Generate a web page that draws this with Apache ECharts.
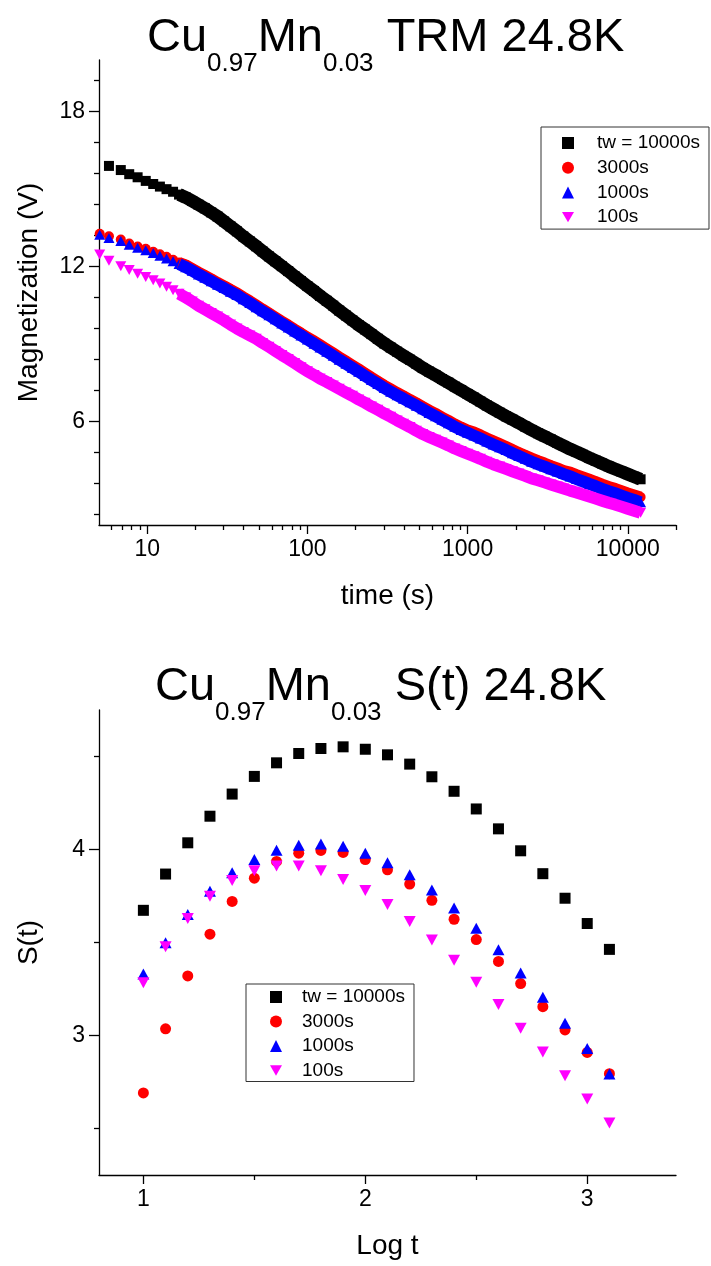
<!DOCTYPE html>
<html>
<head>
<meta charset="utf-8">
<title>CuMn TRM and S(t)</title>
<script src="https://cdn.jsdelivr.net/npm/echarts@6/dist/echarts.min.js"></script>
<style>
  html, body { margin: 0; padding: 0; background: #fff; }
  #chart { width: 711px; height: 1266px; }
</style>
</head>
<body>
<div id="chart"></div>
<script>
// ---- TRM decay (upper panel): time in seconds, magnetization in volts ----
const trmTimes = [
  5.05, 5.77, 6.84, 7.72, 8.71, 9.79, 10.9,
  12.0, 13.2, 14.5, 15.8, 17.4, 19.1, 20.9, 22.9, 25.1, 27.5, 30.2, 33.1, 36.3, 39.8,
  43.7, 47.9, 52.5, 57.5, 63.1, 69.2, 75.9, 83.2, 91.2, 100, 110, 120, 132, 145, 158,
  174, 191, 209, 229, 251, 275, 302, 331, 363, 398, 437, 479, 525, 575, 631, 692,
  759, 832, 912, 1000, 1096, 1202, 1318, 1445, 1585, 1738, 1905, 2089, 2291, 2512,
  2754, 3020, 3311, 3631, 3981, 4365, 4786, 5248, 5754, 6310, 6918, 7586, 8318,
  9120, 10000, 10965, 12023
];
const trmTw10000 = [
  null, 15.90, 15.74, 15.58, 15.46, 15.32, 15.20,
  15.10, 15.00, 14.90, 14.79, 14.68, 14.54, 14.40, 14.26, 14.10, 13.94, 13.75, 13.56, 13.37, 13.17,
  12.98, 12.79, 12.59, 12.40, 12.21, 12.02, 11.83, 11.63, 11.44, 11.25, 11.06, 10.87, 10.68, 10.49, 10.30,
  10.11, 9.92, 9.74, 9.57, 9.39, 9.21, 9.03, 8.87, 8.71, 8.55, 8.40, 8.24, 8.08, 7.94, 7.80, 7.65,
  7.51, 7.36, 7.22, 7.07, 6.93, 6.78, 6.63, 6.49, 6.35, 6.21, 6.08, 5.95, 5.81, 5.68,
  5.55, 5.43, 5.31, 5.18, 5.06, 4.94, 4.83, 4.72, 4.60, 4.49, 4.38, 4.27, 4.17,
  4.07, 3.97, 3.87, 3.77
];
const trmTw3000 = [
  13.27, 13.18, 13.05, 12.90, 12.78, 12.69, 12.58,
  12.48, 12.38, 12.27, 12.16, 12.07, 11.93, 11.79, 11.66, 11.53, 11.39, 11.26, 11.12, 10.99, 10.83,
  10.68, 10.52, 10.36, 10.21, 10.05, 9.89, 9.74, 9.58, 9.43, 9.27, 9.13, 8.98, 8.82, 8.66, 8.51,
  8.35, 8.19, 8.04, 7.88, 7.72, 7.57, 7.41, 7.27, 7.13, 7.00, 6.86, 6.73, 6.59, 6.45, 6.32, 6.18,
  6.05, 5.91, 5.79, 5.68, 5.60, 5.49, 5.37, 5.26, 5.15, 5.04, 4.92, 4.81, 4.70, 4.59,
  4.49, 4.40, 4.30, 4.21, 4.11, 4.05, 3.95, 3.86, 3.77, 3.68, 3.58, 3.49, 3.42,
  3.33, 3.24, 3.16, 3.08
];
const trmTw1000 = [
  13.24, 13.11, 12.99, 12.85, 12.73, 12.64, 12.53,
  12.42, 12.32, 12.21, 12.10, 11.98, 11.84, 11.70, 11.57, 11.44, 11.30, 11.17, 11.03, 10.90, 10.74,
  10.59, 10.43, 10.27, 10.12, 9.96, 9.80, 9.65, 9.49, 9.34, 9.18, 9.02, 8.87, 8.71, 8.55, 8.40,
  8.24, 8.08, 7.93, 7.77, 7.61, 7.46, 7.30, 7.16, 7.02, 6.89, 6.75, 6.62, 6.48, 6.34, 6.21, 6.07,
  5.94, 5.80, 5.68, 5.57, 5.46, 5.35, 5.23, 5.12, 5.01, 4.90, 4.78, 4.67, 4.56, 4.45,
  4.35, 4.26, 4.16, 4.07, 3.97, 3.88, 3.78, 3.69, 3.59, 3.50, 3.40, 3.31, 3.23,
  3.14, 3.05, 2.97, 2.88
];
const trmTw100 = [
  12.47, 12.23, 12.02, 11.87, 11.73, 11.60, 11.47,
  11.35, 11.22, 11.09, 10.95, 10.81, 10.65, 10.49, 10.35, 10.21, 10.07, 9.92, 9.76, 9.61, 9.47,
  9.34, 9.21, 9.05, 8.90, 8.74, 8.58, 8.43, 8.27, 8.11, 7.95, 7.81, 7.67, 7.54, 7.40, 7.27,
  7.13, 7.00, 6.86, 6.73, 6.59, 6.46, 6.32, 6.19, 6.05, 5.92, 5.79, 5.65, 5.52, 5.41, 5.30, 5.19,
  5.08, 4.96, 4.86, 4.76, 4.66, 4.56, 4.45, 4.35, 4.26, 4.17, 4.08, 3.99, 3.90, 3.80,
  3.73, 3.65, 3.57, 3.49, 3.41, 3.33, 3.26, 3.18, 3.10, 3.02, 2.94, 2.86, 2.79,
  2.71, 2.63, 2.55, 2.47
];
// beyond this time the readings are so closely spaced that the markers merge into a ribbon
const denseFrom = 15;

// ---- Relaxation rate S(t) (lower panel) ----
const logT = [1.0, 1.1, 1.2, 1.3, 1.4, 1.5, 1.6, 1.7, 1.8, 1.9, 2.0, 2.1, 2.2, 2.3, 2.4, 2.5, 2.6, 2.7, 2.8, 2.9, 3.0, 3.1];
const sTw10000 = [3.673, 3.868, 4.036, 4.179, 4.298, 4.393, 4.466, 4.516, 4.543, 4.552, 4.539, 4.509, 4.459, 4.391, 4.313, 4.218, 4.111, 3.993, 3.870, 3.738, 3.602, 3.463];
const sTw3000  = [2.691, 3.036, 3.320, 3.545, 3.721, 3.846, 3.936, 3.980, 3.995, 3.984, 3.946, 3.891, 3.814, 3.727, 3.625, 3.516, 3.398, 3.279, 3.155, 3.030, 2.909, 2.795];
const sTw1000  = [3.330, 3.498, 3.650, 3.775, 3.875, 3.946, 3.996, 4.023, 4.030, 4.018, 3.980, 3.929, 3.864, 3.782, 3.686, 3.577, 3.461, 3.336, 3.205, 3.066, 2.930, 2.793];
const sTw100   = [3.284, 3.477, 3.629, 3.748, 3.834, 3.886, 3.911, 3.911, 3.886, 3.839, 3.780, 3.704, 3.613, 3.513, 3.404, 3.286, 3.166, 3.039, 2.911, 2.784, 2.659, 2.530];

// ---- series names and axis ticks ----
const seriesNames = ['tw = 10000s', '3000s', '1000s', '100s'];
const trmTimeTicks = [10, 100, 1000, 10000];
const trmTimeMinorTicks = [6, 7, 8, 9, 20, 30, 40, 50, 60, 70, 80, 90, 200, 300, 400, 500, 600, 700, 800, 900,
  2000, 3000, 4000, 5000, 6000, 7000, 8000, 9000, 20000];
const trmMagTicks = [6, 12, 18];
const trmMagMinorTicks = [2.4, 3.6, 4.8, 7.2, 8.4, 9.6, 10.8, 13.2, 14.4, 15.6, 16.8, 19.2];
const sLogTicks = [1, 2, 3];
const sLogMinorTicks = [1.5, 2.5];
const sTicks = [3, 4];
const sMinorTicks = [2.5, 3.5, 4.5];

const FONT = '"Liberation Sans", Arial, Helvetica, sans-serif';
const INK = '#000';
const colors = ['#000000', '#ff0000', '#0000ff', '#ff00ff'];
const DOWN_TRIANGLE = 'path://M0,0L2,0L1,1.732Z';
const symbols = ['rect', 'circle', 'triangle', DOWN_TRIANGLE];

function pairs(xs, ys, fromX) {
  const out = [];
  for (let i = 0; i < xs.length; i++) {
    if (ys[i] != null && (fromX == null || xs[i] >= fromX)) out.push([xs[i], ys[i]]);
  }
  return out;
}

function titleText(middle) {
  return '{a|Cu}{b|0.97}{a|Mn}{b|0.03}{a| ' + middle + ' 24.8K}';
}
const titleRich = {
  a: { fontSize: 47, lineHeight: 52, verticalAlign: 'top', color: INK, fontFamily: FONT, fontWeight: 'normal' },
  b: { fontSize: 26, lineHeight: 26, verticalAlign: 'top', padding: [36, 0, 0, 0], color: INK, fontFamily: FONT, fontWeight: 'normal' }
};

const lineStyle = { color: INK, width: 1.3 };

function majorAxis(dim, gridIndex, type, min, max, ticks, name, nameGap, extra) {
  const ax = {
    type: type,
    gridIndex: gridIndex,
    position: dim === 'x' ? 'bottom' : 'left',
    min: min,
    max: max,
    axisLine: { show: true, onZero: false, lineStyle: lineStyle },
    axisTick: { show: true, inside: false, length: dim === 'x' ? 9 : 10, lineStyle: lineStyle, customValues: ticks },
    axisLabel: {
      show: true, customValues: ticks, fontSize: 23, color: INK, fontFamily: FONT,
      margin: dim === 'x' ? 13 : 14,
      formatter: function (v) { return String(Math.round(v * 100) / 100); }
    },
    splitLine: { show: false },
    minorTick: { show: false },
    name: name,
    nameLocation: 'middle',
    nameGap: nameGap,
    nameTextStyle: { fontSize: 28, color: INK, fontFamily: FONT }
  };
  if (dim === 'y') ax.nameRotate = 90;
  return Object.assign(ax, extra || {});
}

function minorAxis(dim, gridIndex, type, min, max, ticks) {
  return {
    type: type,
    gridIndex: gridIndex,
    position: dim === 'x' ? 'bottom' : 'left',
    min: min,
    max: max,
    axisLine: { show: false, onZero: false },
    axisTick: { show: true, inside: false, length: 5, lineStyle: lineStyle, customValues: ticks },
    axisLabel: { show: false },
    splitLine: { show: false },
    minorTick: { show: false }
  };
}

function legendFor(left, top, padding, textShift, itemGap) {
  return {
    orient: 'vertical',
    left: left,
    top: top,
    padding: padding,
    itemGap: itemGap,
    itemWidth: 12,
    itemHeight: 12,
    symbolKeepAspect: true,
    borderColor: '#333',
    borderWidth: 1,
    borderRadius: 0,
    backgroundColor: '#fff',
    selectedMode: false,
    textStyle: { fontSize: 19, lineHeight: 20, color: INK, fontFamily: FONT, padding: [0, 0, 0, textShift] },
    data: seriesNames.map(function (n, i) {
      return { name: n, icon: symbols[i], itemStyle: { color: colors[i] } };
    })
  };
}

const trmValues = [trmTw10000, trmTw3000, trmTw1000, trmTw100];
const sValues = [sTw10000, sTw3000, sTw1000, sTw100];
const trmSizes = [10, 10, [11, 10], [11, 10]];
const trmRibbon = [13, 11, 12, 12];
const sSizes = [11, 11, [12, 11], [12, 11]];

const series = [];
trmValues.forEach(function (vals, i) {
  // closely spaced readings: overlapping markers form a continuous ribbon
  series.push({
    name: seriesNames[i], type: 'line', xAxisIndex: 0, yAxisIndex: 0,
    symbol: 'none', silent: true, smooth: false,
    lineStyle: { color: colors[i], width: trmRibbon[i], join: 'round', cap: 'butt' },
    itemStyle: { color: colors[i] },
    emphasis: { disabled: true },
    data: pairs(trmTimes, vals, denseFrom)
  });
  series.push({
    name: seriesNames[i], type: 'scatter', xAxisIndex: 0, yAxisIndex: 0,
    symbol: symbols[i], symbolSize: trmSizes[i],
    itemStyle: { color: colors[i], opacity: 1, borderWidth: 0 },
    emphasis: { disabled: true },
    data: pairs(trmTimes, vals)
  });
});
sValues.forEach(function (vals, i) {
  series.push({
    name: seriesNames[i], type: 'scatter', xAxisIndex: 2, yAxisIndex: 2,
    symbol: symbols[i], symbolSize: sSizes[i],
    itemStyle: { color: colors[i], opacity: 1, borderWidth: 0 },
    emphasis: { disabled: true },
    data: pairs(logT, vals)
  });
});

const option = {
  animation: false,
  backgroundColor: '#fff',
  textStyle: { fontFamily: FONT, color: INK },
  title: [
    { text: titleText('TRM'), left: 147, top: 15, padding: 0, textStyle: { fontWeight: 'normal', rich: titleRich } },
    { text: titleText('S(t)'), left: 155, top: 664, padding: 0, textStyle: { fontWeight: 'normal', rich: titleRich } }
  ],
  legend: [
    legendFor(541, 127, [6, 9, 2, 21], 18, 4.7),
    legendFor(246, 984, [3, 9, 1, 24], 15, 4.5)
  ],
  grid: [
    { left: 99, top: 60, width: 577, height: 465, containLabel: false },
    { left: 99, top: 710, width: 577, height: 465, containLabel: false }
  ],
  xAxis: [
    majorAxis('x', 0, 'log', 5, 20000, trmTimeTicks, 'time (s)', 57, { logBase: 10 }),
    Object.assign(minorAxis('x', 0, 'log', 5, 20000, trmTimeMinorTicks), { logBase: 10 }),
    majorAxis('x', 1, 'value', 0.8, 3.4, sLogTicks, 'Log t', 57),
    minorAxis('x', 1, 'value', 0.8, 3.4, sLogMinorTicks)
  ],
  yAxis: [
    majorAxis('y', 0, 'value', 2, 20, trmMagTicks, 'Magnetization (V)', 56),
    minorAxis('y', 0, 'value', 2, 20, trmMagMinorTicks),
    majorAxis('y', 1, 'value', 2.25, 4.75, sTicks, 'S(t)', 56),
    minorAxis('y', 1, 'value', 2.25, 4.75, sMinorTicks)
  ],
  series: series
};

const chart = echarts.init(document.getElementById('chart'), null, { renderer: 'canvas', width: 711, height: 1266 });
chart.setOption(option);
</script>
</body>
</html>
